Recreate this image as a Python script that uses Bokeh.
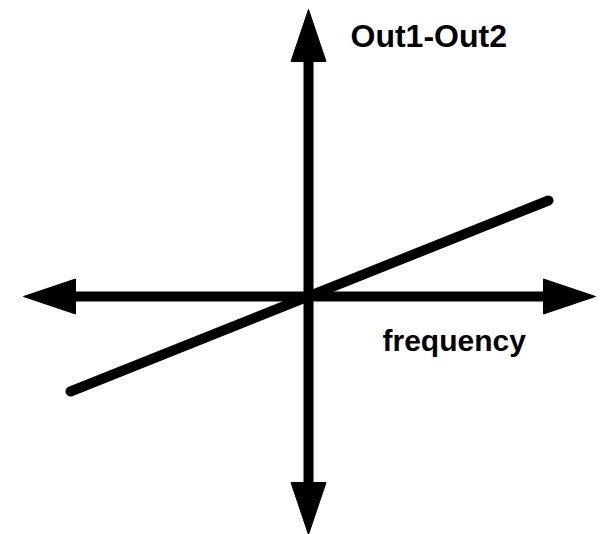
from bokeh.plotting import figure
from bokeh.models import Range1d
from bokeh.core.properties import value
from bokeh.embed import file_html
from bokeh.resources import INLINE

# Schematic data (pixel-like units, origin at axes crossing)
axis_x_extent = [-285, 287]   # horizontal axis: left tip, right tip
axis_y_extent = [-238, 287]   # vertical axis: bottom tip, top tip
line_x = [-238, 240]          # Out1-Out2 vs frequency line
line_y = [-95, 96]
labels = ["Out1-Out2", "frequency"]
label_x = [42, 74]
label_y = [261, -44]
label_sizes = ["32px", "30px"]

HEAD_LEN = 52
HEAD_HALF = 17.5

p = figure(width=609, height=534, output_backend="svg", toolbar_location=None,
           x_range=Range1d(-308, 301), y_range=Range1d(-238, 296),
           min_border=0)
p.axis.visible = False
p.grid.visible = False
p.outline_line_color = None
p.background_fill_color = "white"
p.border_fill_color = "white"

# shafts
xl, xr = axis_x_extent
yb, yt = axis_y_extent
p.segment(x0=[xl + HEAD_LEN - 2, 0], y0=[0, yb + HEAD_LEN - 2],
          x1=[xr - HEAD_LEN + 2, 0], y1=[0, yt - HEAD_LEN + 2],
          line_color="black", line_width=10, line_cap="butt")

# arrow heads
hx = [[xl, xl + HEAD_LEN, xl + HEAD_LEN],
      [xr, xr - HEAD_LEN, xr - HEAD_LEN],
      [0, -HEAD_HALF, HEAD_HALF],
      [0, -HEAD_HALF, HEAD_HALF]]
hy = [[0, HEAD_HALF, -HEAD_HALF],
      [0, HEAD_HALF, -HEAD_HALF],
      [yt, yt - HEAD_LEN, yt - HEAD_LEN],
      [yb, yb + HEAD_LEN, yb + HEAD_LEN]]
p.patches(xs=hx, ys=hy, fill_color="black", line_color="black", line_width=1)

# sloped line
p.line(x=line_x, y=line_y, line_color="black", line_width=10, line_cap="round")

for t, x, y, s in zip(labels, label_x, label_y, label_sizes):
    p.text(x=[x], y=[y], text=[t], text_font=value("Liberation Sans"),
           text_font_style="bold", text_font_size=s, text_color="black",
           text_baseline="alphabetic", text_align="left")

open("out.html", "w").write(file_html(p, INLINE))
